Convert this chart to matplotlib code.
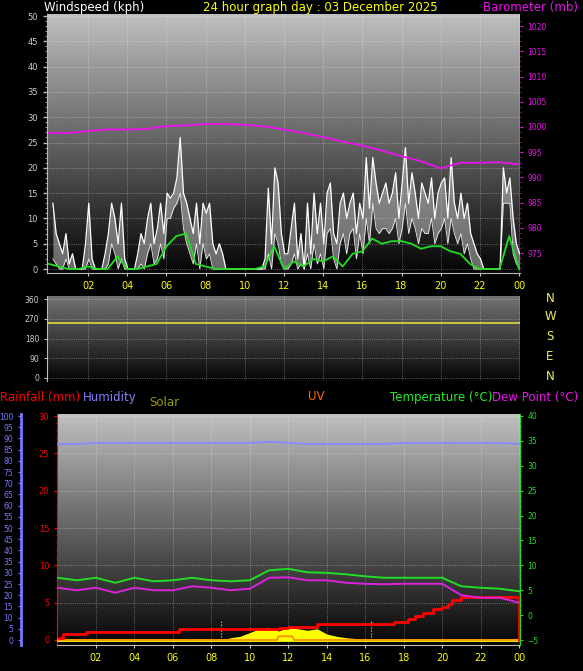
import numpy as np
import matplotlib
matplotlib.use("Agg")
import matplotlib.pyplot as plt

# ---------------- data ----------------
gust = [13,7,5,3,7,1, 3,0,0,0,5,13, 2,0,0,0,3,7, 13,10,5,13,2,0,
        0,0,3,7,5,10, 13,5,8,13,7,15, 14,15,18,26,15,13, 10,7,13,5,13,11,
        13,5,3,5,3,0, 0,0,0,0,0,0, 0,0,0,0,0,2, 16,5,20,17,7,3,
        3,8,13,2,7,0, 13,3,15,7,13,5, 15,17,7,5,13,15, 10,13,15,7,13,10,
        22,12,22,17,13,15, 17,13,15,19,10,17, 24,13,19,15,10,17, 15,13,18,10,15,17,
        18,10,22,13,10,15, 10,13,7,5,3,2, 0,0,0,0,0,0, 20,15,18,10,5,3]
gust_low = [2,1,0,0,2,0, 0,0,0,0,0,2, 0,0,0,0,0,1, 5,3,0,2,0,0,
            0,0,0,1,0,3, 5,1,2,5,2,10, 10,12,13,15,8,5, 3,1,5,0,5,2,
            3,0,0,0,0,0, 0,0,0,0,0,0, 0,0,0,0,0,0, 3,0,7,5,1,0,
            0,1,3,0,1,0, 3,0,5,1,3,0, 7,8,2,0,5,7, 3,7,8,2,7,3,
            10,5,13,8,7,8, 8,7,8,10,5,8, 13,7,10,8,5,8, 7,7,10,5,7,8,
            10,5,10,7,5,7, 3,5,2,0,0,0, 0,0,0,0,0,0, 13,13,13,3,1,0]
avg_speed = [1,0.5, 0,0, 0.5,0, 0,2.5, 0,0, 0.5,1, 4.5,6.5, 7,1, 0.5,0, 0,0, 0,0,
             0.5,4.5, 0,1.5, 0.5,2, 1.5,2.5, 0.5,3, 3.5,6, 5,5.5, 5.5,5, 4,4.5,
             4.5,3.5, 3,1, 0,0, 0,6.5, 0]
baro = [998.8,998.8,999.2,999.5,999.5,999.6,1000.2,1000.3,1000.6,1000.6,1000.4,1000.1,
        999.5,998.8,998.0,997.1,996.3,995.3,994.2,993.2,991.8,992.9,992.9,993.0,992.6]
wind_dir = [250, 250]
hum = [87.5,87.5,88,88,88,88,88,88,88,88,88,88.5,88,87.5,87.5,87.5,87.5,87.5,88,88,88,88,88,88,87.5]
temp = [7.5,7,7.5,6.5,7.5,6.8,7,7.5,7,6.8,7,9,9.3,8.6,8.5,8.2,7.8,7.5,7.5,7.5,7.5,5.8,5.5,5.3,4.8]
dew = [5.5,5,5.5,4.5,5.5,5,5,5.8,5.5,5,5.3,7.5,7.6,7,7,6.5,6.3,6.2,6.3,6.3,6.3,4,3.5,3.5,2.5]
rain_t = [0.1,0.3,1.5,6.3,11.5,12.0,13.5,17.5,18.2,18.6,19.0,19.5,20.0,20.3,20.5,21.0,23.95,24.0]
rain_v = [0.3,0.8,1.1,1.5,1.6,1.8,2.2,2.4,2.8,3.2,3.6,4.2,4.4,4.8,5.3,5.8,5.8,0.0]
solar_t = [8.5,9,9.5,10,10.5,11,11.5,12,12.5,13,13.5,14,14.5,15,16,16.3]
solar_v = [0,0.3,0.5,1.0,1.5,1.7,1.2,1.7,1.5,1.3,1.5,0.8,0.5,0.3,0.1,0]
uv_t = [0,11.4,11.5,12.2,12.3,24]
uv_v = [0,0,0.5,0.5,0,0]
hour_ticks = [2,4,6,8,10,12,14,16,18,20,22,24]
hour_labels = ['02','04','06','08','10','12','14','16','18','20','22','00']

W, H = 583, 671
fig = plt.figure(figsize=(W/100, H/100), dpi=100, facecolor='black')

def ax_rect(x0, y0, x1, y1):
    return [x0/W, 1-y1/H, (x1-x0)/W, (y1-y0)/H]

def style(ax, top_light=0.75):
    ax.set_facecolor('black')
    grad = np.linspace(top_light, 0.02, 256).reshape(-1, 1)
    ax.imshow(grad, cmap='gray', vmin=0, vmax=1, aspect='auto',
              extent=[0, 1, 0, 1], transform=ax.transAxes, zorder=0)
    for s in ax.spines.values():
        s.set_visible(False)
    ax.grid(True, color='white', linestyle=':', linewidth=0.6, alpha=0.45)
    ax.set_axisbelow(False)

# ---------------- top chart ----------------
ax1 = fig.add_axes(ax_rect(47, 14, 520, 273))
style(ax1)
t_g = 0.2 + np.arange(len(gust)) / 6
ax1.fill_between(t_g, gust_low, gust, color='#cccccc', alpha=0.5, zorder=2, lw=0)
ax1.plot(t_g, gust_low, color='#eeeeee', lw=0.6, zorder=3)
ax1.plot(t_g, gust, color='white', lw=0.9, zorder=3)
t_a = np.arange(len(avg_speed)) / 2
ax1.plot(t_a, avg_speed, color='#22dd22', lw=1.3, zorder=4)
ax1.set_xlim(-0.1, 24.05)
ax1.set_ylim(-0.79, 50.4)
ax1.set_yticks(range(0, 51, 5))
ax1.set_yticks(range(0, 51, 1), minor=True)
ax1.tick_params(axis='y', colors='#bbbbbb', labelsize=6, length=3, width=1, labelcolor='#cccccc')
ax1.tick_params(axis='y', which='minor', colors='#bbbbbb', length=1.5)
ax1.set_xticks(hour_ticks)
ax1.set_xticklabels(hour_labels)
ax1.tick_params(axis='x', colors='#cccccc', labelcolor='yellow', labelsize=7, length=2)
ax1.spines['left'].set_visible(True); ax1.spines['left'].set_color('#bbbbbb')
ax1.spines['bottom'].set_visible(True); ax1.spines['bottom'].set_color('#bbbbbb')

ax1b = ax1.twinx()
for s in ax1b.spines.values():
    s.set_visible(False)
ax1b.plot(np.arange(len(baro)), baro, color='#ee11ee', lw=1.3, zorder=5)
ax1b.set_ylim(971.04, 1022.4)
ax1b.set_yticks(range(975, 1021, 5))
ax1b.set_yticks(range(972, 1022, 1), minor=True)
ax1b.tick_params(axis='y', colors='#ee11ee', labelsize=5.5, length=2)
ax1b.tick_params(axis='y', which='minor', colors='#ee11ee', length=1)

fig.text(44/W, 1-8/H, 'Windspeed (kph)', color='white', fontsize=8.5, va='center', ha='left')
fig.text(320/W, 1-8/H, '24 hour graph day : 03 December 2025', color='yellow', fontsize=8.5, va='center', ha='center')
fig.text(578/W, 1-8/H, 'Barometer (mb)', color='#ee11ee', fontsize=8.5, va='center', ha='right')

# ---------------- middle chart ----------------
ax2 = fig.add_axes(ax_rect(47, 296, 520, 381))
style(ax2, top_light=0.45)
ax2.plot([-0.1, 24.05], wind_dir, color='#dddd33', lw=1.2, zorder=3)
ax2.set_xlim(-0.1, 24.05)
ax2.set_ylim(-13.7, 373.7)
ax2.set_yticks([0, 90, 180, 270, 360])
ax2.set_xticks(hour_ticks)
ax2.set_xticklabels([])
ax2.tick_params(axis='x', length=0)
ax2.tick_params(axis='y', colors='#bbbbbb', labelcolor='#cccccc', labelsize=5.5, length=2)
ax2.spines['left'].set_visible(True); ax2.spines['left'].set_color('#bbbbbb')
for lab, yy in zip(['N', 'W', 'S', 'E', 'N'], [298, 317, 337, 356, 376]):
    fig.text(550/W, 1-yy/H, lab, color='#eeee55', fontsize=8.5, ha='center', va='center')

# ---------------- bottom chart ----------------
ax3 = fig.add_axes(ax_rect(57, 414, 520, 645))
style(ax3)
ax3.set_xlim(-0.03, 24.05)
ax3.set_ylim(-0.67, 30.27)
ax3.fill_between(solar_t, 0, solar_v, color='yellow', zorder=3, lw=0)
ax3.plot([0, 24], [0, 0], color='yellow', lw=2, zorder=3)
for xv in [8.5, 16.3]:
    ax3.plot([xv, xv], [0, 2.6], color='yellow', lw=0.8, ls=':', zorder=3)
ax3.plot(uv_t, uv_v, color='#ff8800', lw=1.2, zorder=4)
ax3.step(rain_t, rain_v, where='post', color='red', lw=2, zorder=6)
ax3.set_yticks(range(0, 31, 5))
ax3.set_yticks(range(0, 31, 1), minor=True)
ax3.tick_params(axis='y', colors='red', labelsize=6, length=2)
ax3.tick_params(axis='y', which='minor', colors='red', length=1)
ax3.set_xticks(hour_ticks)
ax3.set_xticklabels(hour_labels)
ax3.tick_params(axis='x', colors='#cccccc', labelcolor='yellow', labelsize=7, length=2)
ax3.spines['left'].set_visible(True); ax3.spines['left'].set_color('red')
ax3.spines['bottom'].set_visible(True); ax3.spines['bottom'].set_color('#bbbbbb')

# humidity axis (outer left)
ax3h = ax3.twinx()
for s in ax3h.spines.values():
    s.set_visible(False)
ax3h.spines['left'].set_visible(True)
ax3h.spines['left'].set_position(('outward', 26))
ax3h.spines['left'].set_color('#7777ff')
ax3h.spines['left'].set_linewidth(2)
ax3h.yaxis.set_ticks_position('left')
ax3h.yaxis.set_label_position('left')
ax3h.plot(np.arange(len(hum)), hum, color='#8888ff', lw=1.3, zorder=5)
ax3h.set_ylim(-2.23, 100.9)
ax3h.set_yticks(range(0, 101, 5))
ax3h.tick_params(axis='y', colors='#7777ff', labelsize=5.5, length=2)

# temperature axis (right)
ax3t = ax3.twinx()
for s in ax3t.spines.values():
    s.set_visible(False)
ax3t.spines['right'].set_visible(True); ax3t.spines['right'].set_color('#22dd22')
ax3t.plot(np.arange(len(temp)), temp, color='#22dd22', lw=1.4, zorder=5)
ax3t.plot(np.arange(len(dew)), dew, color='#dd22dd', lw=1.4, zorder=5)
ax3t.set_ylim(-6.0, 40.4)
ax3t.set_yticks(range(-5, 41, 5))
ax3t.set_yticks(range(-5, 41, 1), minor=True)
ax3t.tick_params(axis='y', colors='#22dd22', labelsize=5.5, length=2)
ax3t.tick_params(axis='y', which='minor', colors='#22dd22', length=1)

fig.text(0/W, 1-397/H, 'Rainfall (mm)', color='red', fontsize=8.5, va='center', ha='left')
fig.text(83/W, 1-397/H, 'Humidity', color='#8080ff', fontsize=8.5, va='center', ha='left')
fig.text(149/W, 1-403/H, 'Solar', color='#999900', fontsize=8.5, va='center', ha='left')
fig.text(308/W, 1-397/H, 'UV', color='#ff6600', fontsize=8.5, va='center', ha='left')
fig.text(390/W, 1-397/H, 'Temperature (°C)', color='#22ee22', fontsize=8.5, va='center', ha='left')
fig.text(578/W, 1-397/H, 'Dew Point (°C)', color='#ee11ee', fontsize=8.5, va='center', ha='right')

fig.savefig('out.png', dpi=100, facecolor='black')
